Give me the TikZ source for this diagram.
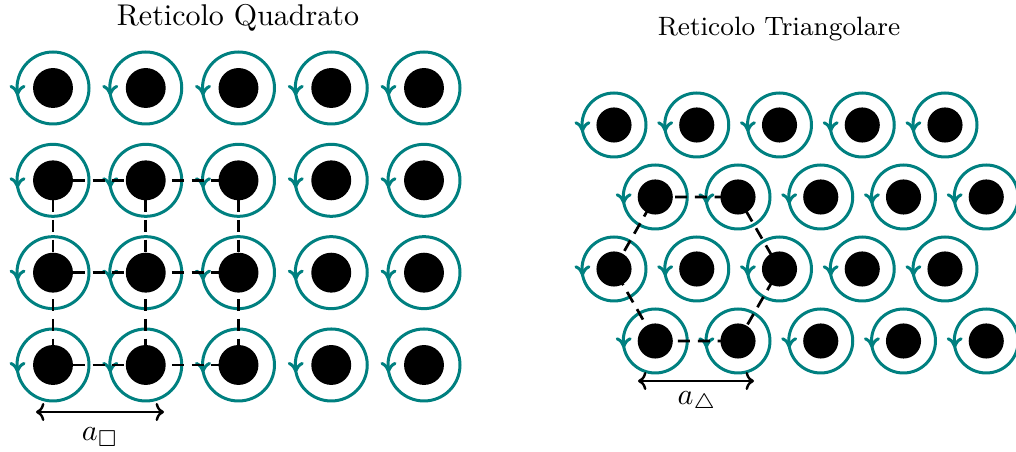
\documentclass[tikz,border=0pt]{standalone}
\usepackage{amssymb}
\usetikzlibrary{arrows.meta}
\definecolor{ringteal}{RGB}{0,128,128}
\tikzset{
  ring/.style={draw=ringteal, line width=1pt},
  chevron/.style={draw=ringteal, line width=1pt, line join=round, line cap=round},
  disk/.style={circle, fill=black, inner sep=0pt, minimum size=#1},
  bond/.style={dashed, dash pattern=on 4pt off 2.6pt, line width=0.9pt},
  dimarrow/.style={line width=0.8pt, {To[length=2.8pt,width=6pt]}-{To[length=2.8pt,width=6pt]}}
}
\newcommand{\ringat}[3]{% x, y, r
  \draw[ring] (#1,#2) circle (#3);
  \pgfmathsetmacro{\tx}{#1-#3*0.986}
  \pgfmathsetmacro{\ty}{#2+#3*0.165}
  \draw[chevron] (\tx-6.5,\ty-7.5) .. controls (\tx-3,\ty-6) and (\tx-1,\ty-3) .. (\tx,\ty)
     .. controls (\tx+1,\ty-3) and (\tx+3,\ty-6) .. (\tx+6.5,\ty-7.5);
}
\begin{document}
\begin{tikzpicture}[x=0.33333pt, y=-0.33333pt]
\useasboundingbox (0,0) rectangle (1016,452);
% square lattice
\node (tq) at (238,18) {Reticolo Quadrato};
\foreach \i in {0,...,4}{
  \foreach \j in {0,...,3}{
    \pgfmathsetmacro{\cx}{53+92.75*\i}
    \pgfmathsetmacro{\cy}{88+92.33*\j}
    \ringat{\cx}{\cy}{36}
    \coordinate (s-\i-\j) at (\cx,\cy);
  }
}
\foreach \i in {0,1,2}{
  \draw[bond] (s-\i-1) -- (s-\i-3);
}
\foreach \j in {1,2,3}{
  \draw[bond] (s-0-\j) -- (s-2-\j);
}
\foreach \i in {0,...,4}{
  \foreach \j in {0,...,3}{
    \node[disk=13.3pt] (d-\i-\j) at (s-\i-\j) {};
  }
}
\coordinate (qa) at (36,412);
\coordinate (qb) at (164,412);
\draw[dimarrow] (qa) -- (qb);
\node (lq) at (100,437) {$a_\square$};
% triangular lattice
\node[font=\fontsize{8.85}{10}\selectfont] (tt) at (779,29) {Reticolo Triangolare};
\foreach \i in {0,...,4}{
  \foreach \j in {0,...,3}{
    \pgfmathsetmacro{\cx}{614+82.75*\i+41.25*mod(\j,2)}
    \pgfmathsetmacro{\cy}{125+72*\j}
    \ringat{\cx}{\cy}{32}
    \coordinate (t-\i-\j) at (\cx,\cy);
  }
}
\draw[bond] (t-0-1) -- (t-1-1) -- (t-2-2) -- (t-1-3) -- (t-0-3) -- (t-0-2) -- cycle;
\foreach \i in {0,...,4}{
  \foreach \j in {0,...,3}{
    \node[disk=11.7pt] (e-\i-\j) at (t-\i-\j) {};
  }
}
\coordinate (ta) at (638,381);
\coordinate (tb) at (754,381);
\draw[dimarrow] (ta) -- (tb);
\node (lt) at (697,402) {$a_\triangle$};
\end{tikzpicture}
\end{document}
